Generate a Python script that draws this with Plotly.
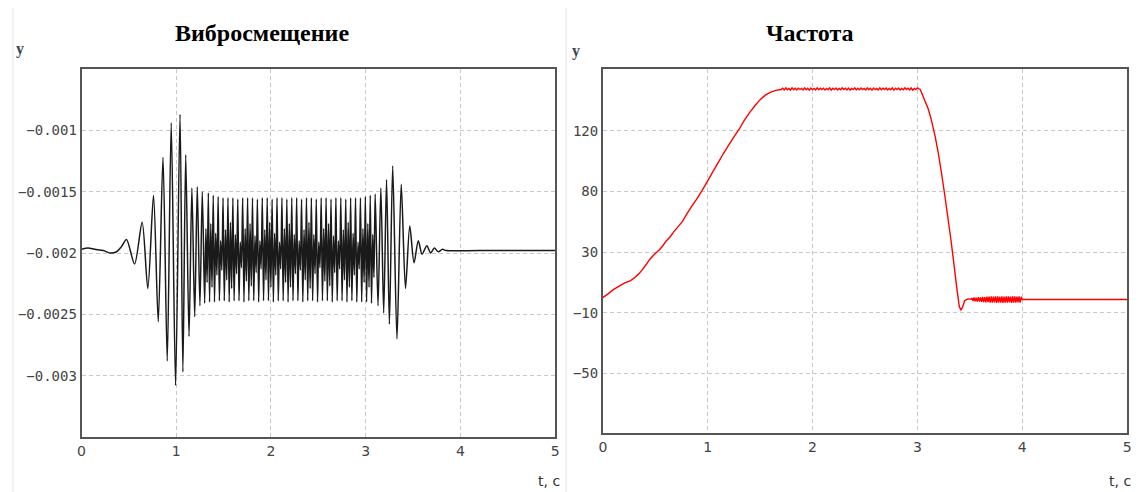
import numpy as np
import plotly.graph_objects as go

# ---------------- Data: vibration displacement (left) ----------------
# start-up transient: extrema (time, value)
disp_start_t = [0.00, 0.07, 0.14, 0.23, 0.30, 0.37, 0.42, 0.475, 0.56, 0.64, 0.70, 0.76, 0.81,
                0.86, 0.905, 0.947, 0.993, 1.04, 1.07, 1.10, 1.135, 1.165, 1.195, 1.222, 1.25, 1.275]
disp_start_v = [-0.00197, -0.00196, -0.00197, -0.00198, -0.00200, -0.00199, -0.00195, -0.00189,
                -0.00209, -0.00175, -0.00229, -0.00153, -0.00256, -0.00122, -0.00288, -0.00094,
                -0.00308, -0.00087, -0.00297, -0.00120, -0.00268, -0.00147, -0.00252, -0.00146,
                -0.00243, -0.00150]
# steady oscillation 1.30 .. 3.10 s: extrema per apparent cycle
# (outer min, inner max, inner min, outer max)
disp_steady_range = (1.30, 3.10)
disp_steady_v = [
    -0.00241, -0.00180, -0.00224, -0.00151,
    -0.00240, -0.00176, -0.00228, -0.00153,
    -0.00240, -0.00184, -0.00218, -0.00154,
    -0.00239, -0.00190, -0.00214, -0.00155,
    -0.00239, -0.00181, -0.00222, -0.00155,
    -0.00240, -0.00175, -0.00229, -0.00155,
    -0.00239, -0.00185, -0.00217, -0.00156,
    -0.00239, -0.00191, -0.00212, -0.00155,
    -0.00240, -0.00180, -0.00223, -0.00155,
    -0.00239, -0.00176, -0.00227, -0.00155,
    -0.00239, -0.00186, -0.00216, -0.00156,
    -0.00240, -0.00190, -0.00213, -0.00155,
    -0.00239, -0.00181, -0.00222, -0.00155,
    -0.00239, -0.00175, -0.00228, -0.00156,
    -0.00240, -0.00184, -0.00218, -0.00155,
    -0.00239, -0.00191, -0.00213, -0.00155,
    -0.00239, -0.00180, -0.00224, -0.00156,
    -0.00240, -0.00176, -0.00228, -0.00155,
    -0.00239, -0.00185, -0.00217, -0.00155,
    -0.00239, -0.00190, -0.00214, -0.00156,
    -0.00240, -0.00181, -0.00222, -0.00155,
    -0.00239, -0.00175, -0.00229, -0.00155,
    -0.00239, -0.00185, -0.00217, -0.00156,
    -0.00240, -0.00191, -0.00212, -0.00155,
    -0.00239, -0.00180, -0.00223, -0.00155,
    -0.00239, -0.00176, -0.00227, -0.00156,
    -0.00240, -0.00186, -0.00216, -0.00155,
    -0.00239, -0.00190, -0.00213, -0.00155,
    -0.00239, -0.00181, -0.00222, -0.00156,
    -0.00240, -0.00175, -0.00228, -0.00155,
    -0.00239, -0.00184, -0.00218, -0.00155,
    -0.00240, -0.00191, -0.00213, -0.00155,
    -0.00240, -0.00180, -0.00224, -0.00154,
    -0.00240, -0.00176, -0.00228, -0.00153,
    -0.00241, -0.00185, -0.00220, -0.00152,
]
# run-down transient: extrema (time, value)
disp_end_t = [3.13, 3.16, 3.19, 3.22, 3.25, 3.285, 3.33, 3.375, 3.42, 3.465, 3.51, 3.555, 3.595,
              3.645, 3.685, 3.725, 3.765, 3.81, 3.85, 4.2, 5.00]
disp_end_v = [-0.00243, -0.00147, -0.00249, -0.00140, -0.00258, -0.00129, -0.00270, -0.00144,
              -0.00229, -0.00178, -0.00208, -0.00190, -0.00201, -0.00194, -0.00200, -0.00196,
              -0.00199, -0.00197, -0.00198, -0.00198, -0.00198]

# ---------------- Data: frequency (right) ----------------
freq_ramp_t = [0.00, 0.05, 0.10, 0.16, 0.21, 0.26, 0.30, 0.34, 0.37, 0.41, 0.445, 0.49, 0.54, 0.57,
               0.60, 0.64, 0.68, 0.72, 0.76, 0.80, 0.85, 0.89, 0.95, 1.00, 1.05, 1.10, 1.15, 1.20,
               1.25, 1.30, 1.35, 1.40, 1.45, 1.50, 1.55, 1.60, 1.65, 1.70]
freq_ramp_v = [0.0, 2.5, 5.3, 7.8, 9.7, 11.0, 13.0, 15.5, 17.8, 21.5, 25.0, 28.5, 31.6, 34.0,
               37.0, 40.0, 43.7, 47.0, 50.3, 55.0, 60.5, 64.5, 71.0, 77.0, 83.0, 89.0, 95.0, 100.5,
               106.0, 111.0, 117.0, 122.0, 126.5, 130.5, 133.5, 135.5, 136.6, 137.2]
# plateau 1.70 .. 3.02 s with small ripple
freq_plateau_range = (1.715, 3.015)
freq_plateau_v = [
    138.0, 136.9, 138.2, 137.0, 137.9, 136.8, 138.3, 137.1, 138.0, 136.9,
    138.1, 137.2, 137.9, 136.9, 138.3, 137.0, 138.0, 136.8, 138.2, 137.1,
    137.9, 136.9, 138.3, 137.0, 138.0, 137.2, 138.1, 136.9, 137.9, 137.0,
    138.3, 136.8, 138.0, 137.1, 138.2, 136.9, 137.9, 137.0, 138.3, 137.2,
    138.0, 136.9, 138.1, 136.8, 137.9, 137.1, 138.3, 136.9, 138.0, 137.0,
    138.2, 137.2, 137.9, 136.9, 138.3, 137.0, 138.0, 136.8, 138.1, 137.1,
    137.9, 136.9, 138.3, 137.0, 138.0, 137.2, 138.2, 136.9, 137.9, 137.0,
    138.3, 136.8, 138.0, 137.1, 138.1, 136.9, 137.9, 137.0, 138.3, 137.2,
    138.0, 136.9, 138.2, 136.8, 137.9, 137.1, 138.3, 137.6,
]
freq_drop_t = [3.025, 3.04, 3.07, 3.10, 3.13, 3.17, 3.20, 3.23, 3.26, 3.29, 3.32, 3.35, 3.38,
               3.40, 3.415, 3.43, 3.45, 3.48, 3.515]
freq_drop_v = [137.5, 135.0, 130.0, 125.0, 118.0, 106.0, 95.0, 82.0, 68.0, 53.0, 38.0, 21.0, 4.0,
               -6.0, -8.0, -6.5, -2.0, -0.8, -1.0]
# noisy band 3.52 .. 4.00 s
freq_noise_range = (3.52, 4.00)
freq_noise_v = [
    -0.2, -2.2, 0.1, -2.4, -0.1, -2.6, 0.3, -2.5, 0.2, -2.8, 0.5, -2.9, 0.4, -3.1, 0.7, -3.0,
    0.6, -3.2, 0.8, -3.3, 0.7, -3.1, 0.9, -3.4, 0.8, -3.2, 0.6, -3.3, 0.9, -3.4, 0.7, -3.2,
    0.8, -3.3, 0.9, -3.1, 0.7, -3.4, 0.8, -3.2, 0.9, -3.3, 0.7, -3.1, 0.8, -3.3, 0.6, -1.2,
]
freq_tail_t = [4.005, 5.00]
freq_tail_v = [-1.2, -1.2]

# ---------------- Axis ticks ----------------
x_ticks = [0, 1, 2, 3, 4, 5]
disp_tick_vals = [-0.003, -0.0025, -0.002, -0.0015, -0.001]
disp_tick_text = ["\u22120.003", "\u22120.0025", "\u22120.002", "\u22120.0015", "\u22120.001"]
freq_tick_vals = [-50, -10, 30, 70, 110]
freq_tick_text = ["\u221250", "\u221210", "30", "80", "120"]

# ---------------- Build series ----------------
disp_t = np.concatenate([disp_start_t,
                         np.linspace(*disp_steady_range, len(disp_steady_v)),
                         disp_end_t])
disp_v = np.concatenate([disp_start_v, disp_steady_v, disp_end_v])

freq_t = np.concatenate([freq_ramp_t,
                         np.linspace(*freq_plateau_range, len(freq_plateau_v)),
                         freq_drop_t,
                         np.linspace(*freq_noise_range, len(freq_noise_v)),
                         freq_tail_t])
freq_v = np.concatenate([freq_ramp_v, freq_plateau_v, freq_drop_v, freq_noise_v, freq_tail_v])

W, H = 1142, 492
OFF = 8  # page body margin offsets the figure by 8px


def px(x):
    return (x - OFF) / W


def py(y):
    return 1 - (y - OFF) / H


fig = go.Figure()
fig.add_trace(go.Scatter(x=disp_t, y=disp_v, mode="lines", xaxis="x", yaxis="y",
                         line=dict(color="#1a1a1a", width=1.5, simplify=False,
                                   shape="spline", smoothing=0.8),
                         showlegend=False, hoverinfo="skip"))
fig.add_trace(go.Scatter(x=freq_t, y=freq_v, mode="lines", xaxis="x2", yaxis="y2",
                         line=dict(color="#ff0000", width=1.4, simplify=False),
                         showlegend=False, hoverinfo="skip"))

grid = dict(showgrid=True, gridcolor="#c8c8c8", gridwidth=1, griddash="4px,3px",
            showline=True, linecolor="#555555", linewidth=1.6, mirror=True,
            zeroline=False, ticks="")
tick_font_x = dict(family="DejaVu Sans", size=14, color="#444444")
tick_font_y = dict(family="DejaVu Sans Mono", size=14, color="#444444")

fig.update_layout(
    width=W, height=H, autosize=False,
    margin=dict(l=0, r=0, t=0, b=0),
    paper_bgcolor="white", plot_bgcolor="white",
    xaxis=dict(domain=[px(78), px(555)], range=[0, 5], tickvals=x_ticks,
               tickfont=tick_font_x, anchor="y", **grid),
    yaxis=dict(domain=[py(437), py(69)], range=[-0.0035, -0.0005],
               tickvals=disp_tick_vals, ticktext=disp_tick_text,
               tickfont=tick_font_y, anchor="x", **grid),
    xaxis2=dict(domain=[px(603), px(1131)], range=[0, 5], tickvals=x_ticks,
                tickfont=tick_font_x, anchor="y2", **grid),
    yaxis2=dict(domain=[py(433), py(69)], range=[-89.2, 150.7],
                tickvals=freq_tick_vals, ticktext=freq_tick_text,
                tickfont=tick_font_y, anchor="x2", **grid),
)

title_font = dict(family="Liberation Serif", size=24, color="black")
ylab_font = dict(family="Liberation Serif", size=16, color="#3b4656")
xlab_font = dict(family="DejaVu Sans", size=14, color="#333333")
annos = [
    dict(text="<b>Вибросмещение</b>", x=px(260), y=py(33), font=title_font),
    dict(text="<b>Частота</b>", x=px(812), y=py(33), font=title_font),
    dict(text="<b>y</b>", x=px(16), y=py(49), font=ylab_font),
    dict(text="<b>y</b>", x=px(576), y=py(51), font=ylab_font),
    dict(text="t, с", x=px(549), y=py(481), font=xlab_font),
    dict(text="t, с", x=px(1124), y=py(481), font=xlab_font),
]
for a in annos:
    fig.add_annotation(xref="paper", yref="paper", showarrow=False,
                       xanchor="center", yanchor="middle", **a)

# faint panel separators
for xs in (9, 566):
    fig.add_shape(type="line", xref="paper", yref="paper", x0=px(xs), x1=px(xs),
                  y0=py(492), y1=py(8), line=dict(color="#e2e2e2", width=1))

fig.write_html("out.html")
